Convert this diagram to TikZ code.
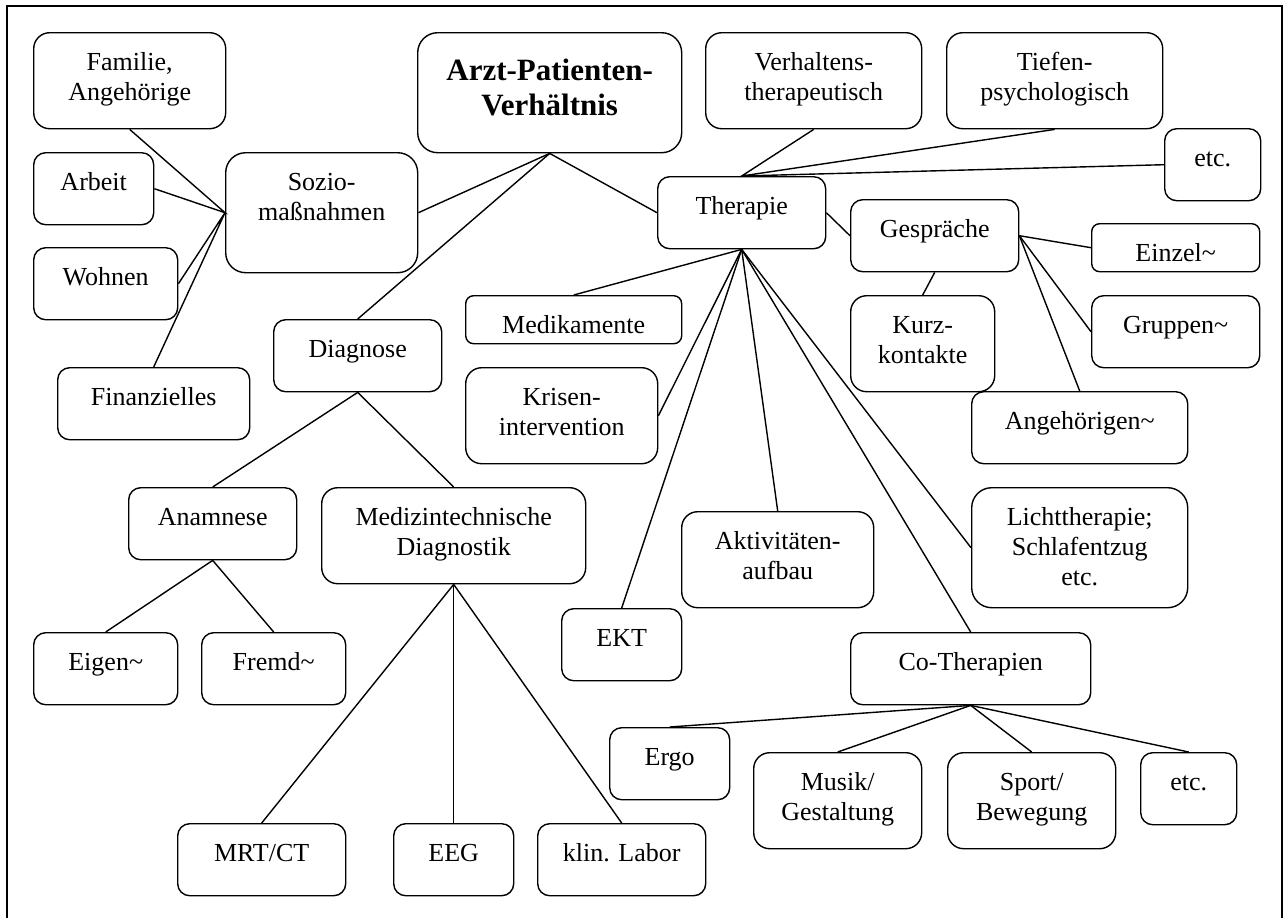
\documentclass[tikz,border=0pt]{standalone}
\usepackage{fontspec}
\setmainfont{Liberation Serif}
\usepackage{tikz}
\frenchspacing

\begin{document}
\begin{tikzpicture}[x = 1pt, y = -1pt, line width = 0.7pt,
                    font = \fontsize{13}{15}\selectfont,
                    box/.style = {draw, fill = white, inner sep = 0pt, anchor = north west,
                                  align = center, text height = 19pt},
                    low/.style = {text depth = 5pt, rounded corners = 4pt},
                    one/.style = {text depth = 17pt, rounded corners = 6pt},
                    two/.style = {text depth = 29pt, rounded corners = 8pt},
                    three/.style = {text depth = 41pt, rounded corners = 10pt}]
      \useasboundingbox (0, 0) rectangle (643.5, 458.5);
      \draw [line width = 1pt] (3.5, 470) -- (3.5, 3) -- (641, 3) -- (641, 470);
      % Sozio side
      \node [box, two, text width = 96pt] (familie) at (16.5, 16){Familie,\\ Angehörige};
      \node [box, one, text width = 60pt] (arbeit) at (16.5, 76){Arbeit};
      \node [box, one, text width = 72pt] (wohnen) at (16.5, 123.5){Wohnen};
      \node [box, one, text width = 96pt] (finanz) at (28.5, 183.5){Finanzielles};
      \node [box, three, text width = 96pt] (sozio) at (112.5, 76){Sozio-\\ maßnahmen};
      \node [box, text width = 132pt, text height = 24pt, text depth = 36pt, rounded corners = 10pt,
             font = \bfseries\fontsize{15.5}{17.5}\selectfont] (arzt) at (208.5, 16){Arzt-Patienten-\\ Verhältnis};
      % Diagnose side
      \node [box, one, text width = 84pt] (diagnose) at (136.5, 159.5){Diagnose};
      \node [box, one, text width = 84pt] (anamnese) at (64, 243.5){Anamnese};
      \node [box, two, text width = 132pt] (medizin) at (160.5, 243.5){Medizintechnische\\ Diagnostik};
      \node [box, one, text width = 72pt] (eigen) at (16.5, 316){Eigen\textasciitilde};
      \node [box, one, text width = 72pt] (fremd) at (100.5, 316){Fremd\textasciitilde};
      \node [box, one, text width = 84pt] (mrt) at (88.5, 411.5){MRT/CT};
      \node [box, one, text width = 60pt] (eeg) at (196.5, 411.5){EEG};
      \node [box, one, text width = 84pt] (labor) at (268.5, 411.5){klin. Labor};
      % Therapie side
      \node [box, one, text width = 84pt] (therapie) at (328.5, 88){Therapie};
      \node [box, two, text width = 108pt] (verh) at (352.5, 16){Verhaltens-\\ therapeutisch};
      \node [box, two, text width = 108pt] (tiefen) at (473, 16){Tiefen-\\ psychologisch};
      \node [box, one, text width = 48pt] (etct) at (582, 64){etc.};
      \node [box, one, text width = 84pt] (gespr) at (425, 99.5){Gespräche};
      \node [box, low, text width = 84pt] (einzel) at (545.5, 111.5){Einzel\textasciitilde};
      \node [box, one, text width = 84pt] (gruppen) at (545.5, 147.5){Gruppen\textasciitilde};
      \node [box, two, text width = 72pt] (kurz) at (425, 147.5){Kurz-\\ kontakte};
      \node [box, one, text width = 108pt] (angeh) at (485.5, 195.5){Angehörigen\textasciitilde};
      \node [box, low, text width = 108pt] (medik) at (232.5, 147.5){Medikamente};
      \node [box, two, text width = 96pt] (krisen) at (232.5, 183.5){Krisen-\\ intervention};
      \node [box, one, text width = 60pt] (ekt) at (280.5, 304){EKT};
      \node [box, two, text width = 96pt] (aktiv) at (340.5, 255.5){Aktivitäten-\\ aufbau};
      \node [box, three, text width = 108pt] (licht) at (485.5, 243.5){Lichttherapie;\\ Schlafentzug\\ etc.};
      \node [box, one, text width = 120pt] (cother) at (425, 316){Co-Therapien};
      \node [box, one, text width = 60pt] (ergo) at (304.5, 363.5){Ergo};
      \node [box, two, text width = 84pt] (musik) at (376.5, 376){Musik/\\ Gestaltung};
      \node [box, two, text width = 84pt] (sport) at (473.5, 376){Sport/\\ Bewegung};
      \node [box, one, text width = 48pt] (etcb) at (570, 376){etc.};
      % connectors
      \draw (familie.south) -- (sozio.west) -- (arbeit.east);
      \draw (wohnen.east) -- (sozio.west) -- (finanz.north);
      \draw (sozio.east) -- (arzt.south) -- (therapie.west);
      \draw (arzt.south) -- (diagnose.north);
      \draw (diagnose.south) -- (anamnese.north);
      \draw (diagnose.south) -- (medizin.north);
      \draw (eigen.north) -- (anamnese.south) -- (fremd.north);
      \draw (medizin.south) -- (mrt.north);
      \draw (medizin.south) -- (eeg.north);
      \draw (medizin.south) -- (labor.north);
      \draw (verh.south) -- (therapie.north) -- (tiefen.south);
      \draw (therapie.north) -- (etct.west);
      \draw (therapie.east) -- (gespr.west);
      \draw (gespr.east) -- (einzel.west);
      \draw (gespr.east) -- (gruppen.west);
      \draw (gespr.east) -- (angeh.north);
      \draw (gespr.south) -- (kurz.north);
      \draw (therapie.south) -- (medik.north);
      \draw (therapie.south) -- (krisen.east);
      \draw (therapie.south) -- (ekt.north);
      \draw (therapie.south) -- (aktiv.north);
      \draw (therapie.south) -- (cother.north);
      \draw (therapie.south) -- (licht.west);
      \draw (cother.south) -- (ergo.north);
      \draw (cother.south) -- (musik.north);
      \draw (cother.south) -- (sport.north);
      \draw (cother.south) -- (etcb.north);
    \end{tikzpicture}
\end{document}
